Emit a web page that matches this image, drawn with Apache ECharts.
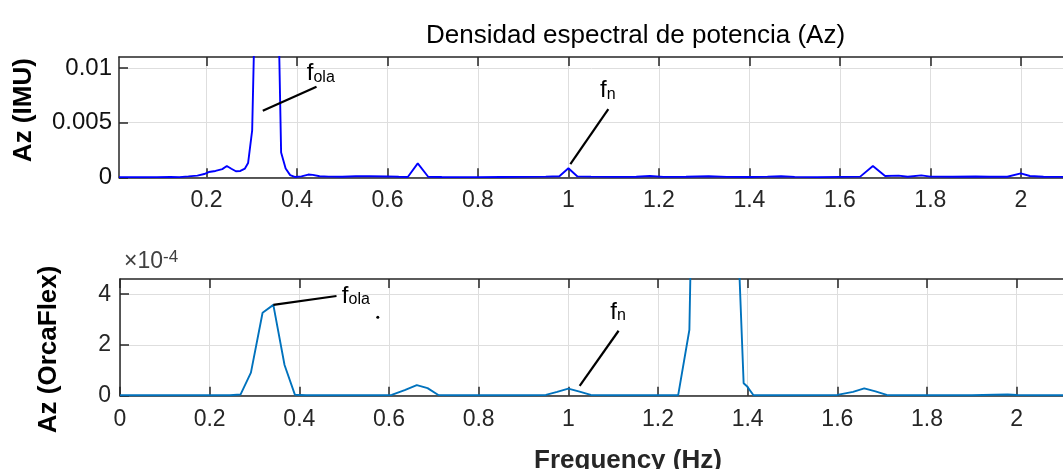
<!DOCTYPE html>
<html>
<head>
<meta charset="utf-8">
<script src="https://cdn.jsdelivr.net/npm/echarts@6/dist/echarts.min.js"></script>
<style>
  html, body { margin: 0; padding: 0; background: #fff; }
  #chart { width: 1063px; height: 469px; }
</style>
</head>
<body>
<div id="chart"></div>
<script>
// Power spectral density of vertical acceleration: IMU measurement (top) vs OrcaFlex model (bottom)

// IMU spectrum: frequency (Hz) and PSD value
const imuFreq = [0.00667, 0.03, 0.06, 0.09, 0.12, 0.14, 0.16, 0.18, 0.195, 0.205, 0.22, 0.235, 0.245, 0.255, 0.265, 0.275,
  0.285, 0.292, 0.301, 0.31, 0.32, 0.333, 0.345, 0.355, 0.365, 0.375, 0.385, 0.395, 0.41, 0.425, 0.435, 0.45, 0.47,
  0.5, 0.53, 0.56, 0.6, 0.625, 0.645, 0.667, 0.69, 0.72, 0.76, 0.8, 0.85, 0.9, 0.95, 0.98, 1.0, 1.02, 1.05, 1.1,
  1.15, 1.18, 1.21, 1.26, 1.31, 1.35, 1.4, 1.44, 1.47, 1.5, 1.55, 1.6, 1.645, 1.673, 1.7, 1.73, 1.75, 1.78, 1.8,
  1.85, 1.9, 1.93, 1.97, 2.0, 2.02, 2.05, 2.1, 2.12];
const imuPsd = [0.00002, 0.00002, 0.00001, 0.00002, 0.00003, 0.00002, 0.00008, 0.00015, 0.0003, 0.00048, 0.00058, 0.00075, 0.00103, 0.00078, 0.00055, 0.00058,
  0.0008, 0.0013, 0.0043, 0.021, 0.045, 0.06, 0.045, 0.024, 0.00227, 0.0008, 0.0002, 0.00003, 0.00008, 0.00025, 0.00022, 0.0001, 0.00006,
  0.00005, 0.0001, 0.0001, 0.00008, 0.00005, 0.00003, 0.00127, 0.00005, 0.00003, 0.00002, 0.00002, 0.00003, 0.00004, 0.00006, 0.0001, 0.00082, 0.00008, 0.00006, 0.00004,
  0.00005, 0.00012, 0.00004, 0.00005, 0.0001, 0.00004, 0.00003, 0.00006, 0.0001, 0.00004, 0.00002, 0.00004, 0.00006, 0.00103, 0.00012, 0.00015, 0.00005, 0.00018, 0.00006,
  0.00005, 0.00007, 0.00005, 0.00005, 0.00036, 0.00012, 0.00005, 0.00004, 0.00004];

// OrcaFlex spectrum: frequency (Hz) and PSD value in units of 1e-4
const orcaFreq = [0, 0.05, 0.1, 0.15, 0.2, 0.245, 0.269, 0.292, 0.318, 0.342, 0.367, 0.39, 0.415, 0.5, 0.58, 0.606, 0.635,
  0.662, 0.686, 0.71, 0.75, 0.9, 0.95, 0.975, 1.0, 1.025, 1.05, 1.1, 1.2, 1.245, 1.27, 1.29, 1.31, 1.333, 1.35, 1.368,
  1.391, 1.399, 1.413, 1.5, 1.6, 1.635, 1.66, 1.685, 1.71, 1.8, 1.9, 1.95, 1.98, 2.0, 2.05, 2.12];
const orcaPsdE4 = [0.02, 0.02, 0.02, 0.02, 0.02, 0.02, 0.05, 0.91, 3.27, 3.58, 1.21, 0.04, 0.02, 0.02, 0.02, 0.03, 0.22,
  0.42, 0.3, 0.03, 0.02, 0.02, 0.03, 0.15, 0.28, 0.16, 0.03, 0.02, 0.02, 0.02, 2.6, 22, 60, 80, 50, 11,
  0.49, 0.36, 0.02, 0.02, 0.03, 0.15, 0.29, 0.17, 0.03, 0.02, 0.02, 0.04, 0.05, 0.03, 0.02, 0.02];

// Tick values and labels
const xTicksTop = [0.2, 0.4, 0.6, 0.8, 1.0, 1.2, 1.4, 1.6, 1.8, 2.0];
const xTicksBottom = [0, 0.2, 0.4, 0.6, 0.8, 1.0, 1.2, 1.4, 1.6, 1.8, 2.0];
const yTicksTop = [0, 0.005, 0.01];
const yTickLabelsTop = ['0', '0.005', '0.01'];
const yTicksBottom = [0, 2, 4];

// Annotation leader lines [x1, y1, x2, y2] and label anchors [x, y]
const imuFolaLine = [0.3245, 0.00608, 0.4432, 0.00827];
const imuFolaText = [0.4527, 0.00952];
const imuFnLine = [1.0043, 0.00121, 1.0882, 0.00623];
const imuFnText = [1.087, 0.00797];
const orcaFolaLine = [0.342, 3.58, 0.4829, 3.93];
const orcaFolaText = [0.526, 3.93];
const orcaFnLine = [1.0253, 0.39, 1.1121, 2.56];
const orcaFnText = [1.111, 3.30];
const orcaDot = [0.575, 3.09];

const FONT = '"Liberation Sans", Arial, Helvetica, sans-serif';
const AX = '#262626';
const GRIDC = '#dedede';

function pairs(xs, ys) { return xs.map((x, i) => [x, ys[i]]); }
function fmtX(v) { return String(+(+v).toFixed(1)); }

function xAxisPair(gridIndex, min, max, ticks) {
  const line = { show: true, onZero: false, lineStyle: { color: AX, width: 1.5 } };
  const tick = { show: true, inside: true, length: 9, customValues: ticks, lineStyle: { color: AX, width: 1.5 } };
  return [
    {
      type: 'value', gridIndex, min, max, position: 'bottom',
      axisLine: line, axisTick: tick,
      axisLabel: { customValues: ticks, formatter: fmtX, margin: 12, fontSize: 23, color: AX, fontFamily: FONT },
      splitLine: { show: true, lineStyle: { color: GRIDC, width: 1 } }
    },
    {
      type: 'value', gridIndex, min, max, position: 'top',
      axisLine: line, axisTick: tick,
      axisLabel: { show: false }, splitLine: { show: false }
    }
  ];
}

function fsub(sub) {
  return {
    show: true, position: 'inside',
    formatter: '{f|f}{s|' + sub + '}',
    rich: {
      f: { fontSize: 24, color: '#000', fontFamily: FONT, verticalAlign: 'bottom', lineHeight: 24 },
      s: { fontSize: 16, color: '#000', fontFamily: FONT, verticalAlign: 'bottom', lineHeight: 22 }
    }
  };
}

function leader(l) {
  return [{ coord: [l[0], l[1]] }, { coord: [l[2], l[3]] }];
}

function textPoint(p, sub) {
  return { coord: p, symbol: 'circle', symbolSize: 0, label: fsub(sub) };
}

const markLineBase = {
  silent: true, symbol: ['none', 'none'], animation: false,
  label: { show: false }, lineStyle: { color: '#000', width: 2.2, type: 'solid' }
};

const chart = echarts.init(document.getElementById('chart'), null, { renderer: 'canvas' });

chart.setOption({
  animation: false,
  backgroundColor: '#fff',
  title: {
    text: 'Densidad espectral de potencia (Az)',
    left: 421, top: 18,
    textStyle: { fontSize: 26, fontWeight: 'normal', color: '#000', fontFamily: FONT }
  },
  grid: [
    { left: 119, top: 57, width: 951.6, height: 120.3, outerBoundsMode: 'none' },
    { left: 120, top: 279, width: 946, height: 116.7, outerBoundsMode: 'none' }
  ],
  xAxis: [
    ...xAxisPair(0, 0.00667, 2.11, xTicksTop),
    ...xAxisPair(1, 0, 2.11, xTicksBottom).map((a, i) => i === 0 ? Object.assign(a, {
      name: 'Frequency (Hz)', nameLocation: 'middle', nameGap: 52,
      nameTextStyle: { fontSize: 26, fontWeight: 'bold', color: AX, fontFamily: FONT, padding: [0, 0, 0, 70] }
    }) : a)
  ],
  yAxis: [
    {
      type: 'value', gridIndex: 0, min: 0, max: 0.011,
      name: 'Az (IMU)', nameLocation: 'middle', nameGap: 82,
      nameTextStyle: { fontSize: 26, fontWeight: 'bold', color: '#000', fontFamily: FONT, padding: [0, 0, 0, 14] },
      axisLine: { show: true, onZero: false, lineStyle: { color: AX, width: 1.5 } },
      axisTick: { show: true, inside: true, length: 9, customValues: yTicksTop, lineStyle: { color: AX, width: 1.5 } },
      axisLabel: {
        customValues: yTicksTop, margin: 7, fontSize: 24, color: '#111', fontFamily: FONT,
        formatter: v => yTickLabelsTop[yTicksTop.findIndex(t => Math.abs(t - v) < 1e-9)] ?? ''
      },
      splitLine: { show: true, lineStyle: { color: GRIDC, width: 1 } }
    },
    {
      type: 'value', gridIndex: 1, min: 0, max: 4.6,
      name: '{a|×10}{b|-4}', nameLocation: 'end', nameGap: 6,
      nameTextStyle: {
        align: 'left', padding: [0, 0, 0, 4],
        rich: {
          a: { fontSize: 23, color: '#404040', fontFamily: FONT, verticalAlign: 'bottom', lineHeight: 24 },
          b: { fontSize: 17, color: '#404040', fontFamily: FONT, verticalAlign: 'top', lineHeight: 24 }
        }
      },
      axisLine: { show: true, onZero: false, lineStyle: { color: AX, width: 1.5 } },
      axisTick: { show: true, inside: true, length: 9, customValues: yTicksBottom, lineStyle: { color: AX, width: 1.5 } },
      axisLabel: { customValues: yTicksBottom, margin: 9, fontSize: 23, color: AX, fontFamily: FONT, formatter: v => String(v) },
      splitLine: { show: true, lineStyle: { color: GRIDC, width: 1 } }
    },
    {
      type: 'value', gridIndex: 1, min: 0, max: 4.6, show: true, position: 'left', offset: 0,
      name: 'Az (OrcaFlex)', nameLocation: 'middle', nameGap: 58,
      nameTextStyle: { fontSize: 26, fontWeight: 'bold', color: '#000', fontFamily: FONT, padding: [0, 24, 0, 0] },
      axisLine: { show: false }, axisTick: { show: false }, axisLabel: { show: false }, splitLine: { show: false }
    }
  ],
  series: [
    {
      name: 'IMU', type: 'line', xAxisIndex: 0, yAxisIndex: 0,
      data: pairs(imuFreq, imuPsd), showSymbol: false, clip: true,
      lineStyle: { color: '#0000ff', width: 1.9 }, itemStyle: { color: '#0000ff' },
      markLine: Object.assign({}, markLineBase, { data: [leader(imuFolaLine), leader(imuFnLine)] }),
      markPoint: { silent: true, animation: false, data: [textPoint(imuFolaText, 'ola'), textPoint(imuFnText, 'n')] }
    },
    {
      name: 'OrcaFlex', type: 'line', xAxisIndex: 2, yAxisIndex: 1,
      data: pairs(orcaFreq, orcaPsdE4), showSymbol: false, clip: true,
      lineStyle: { color: '#0072bd', width: 1.9 }, itemStyle: { color: '#0072bd' },
      markLine: Object.assign({}, markLineBase, { data: [leader(orcaFolaLine), leader(orcaFnLine)] }),
      markPoint: {
        silent: true, animation: false,
        data: [
          textPoint(orcaFolaText, 'ola'), textPoint(orcaFnText, 'n'),
          { coord: orcaDot, symbol: 'circle', symbolSize: 3, itemStyle: { color: '#000' }, label: { show: false } }
        ]
      }
    }
  ]
});
</script>
</body>
</html>
